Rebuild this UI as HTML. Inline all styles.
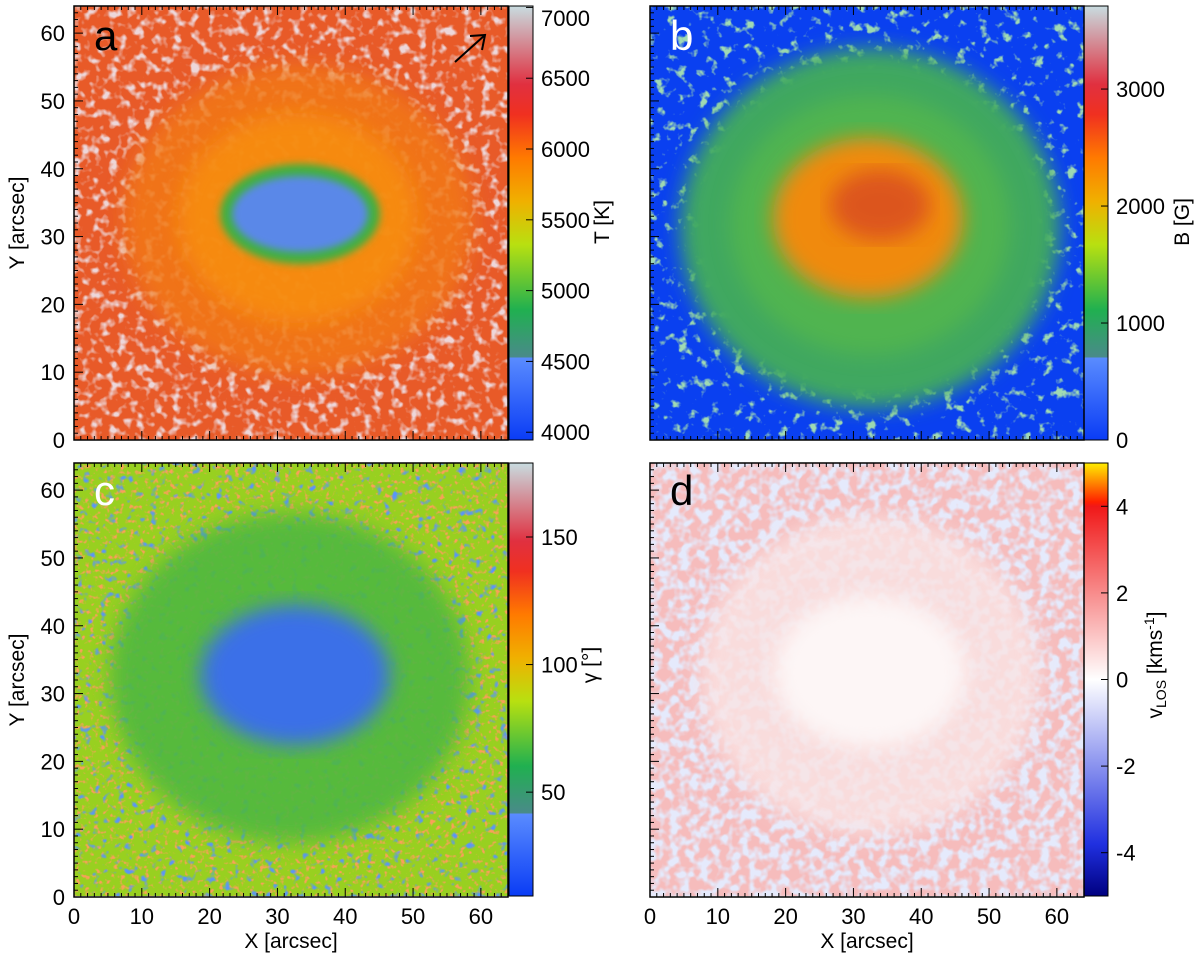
<!DOCTYPE html>
<html><head><meta charset="utf-8"><style>
body{margin:0;background:#fff;width:1200px;height:962px;overflow:hidden;font-family:"Liberation Sans",Arial,sans-serif}
</style></head><body>
<svg id="fig" width="1200" height="962" xmlns="http://www.w3.org/2000/svg" font-family="Liberation Sans, Arial, sans-serif">
<defs>
<linearGradient id="cbT" x1="0" y1="1" x2="0" y2="0">
<stop offset="0" stop-color="#0a3cf5"/><stop offset="0.19" stop-color="#5a8cff"/><stop offset="0.19" stop-color="#4a8a8a"/><stop offset="0.3" stop-color="#20b050"/><stop offset="0.45" stop-color="#b8e010"/><stop offset="0.55" stop-color="#f0b000"/><stop offset="0.65" stop-color="#ff7a00"/><stop offset="0.75" stop-color="#f03020"/><stop offset="0.82" stop-color="#e03040"/><stop offset="1" stop-color="#c8dce0"/>
</linearGradient>
<linearGradient id="cbV" x1="0" y1="1" x2="0" y2="0">
<stop offset="0" stop-color="#000080"/><stop offset="0.12" stop-color="#2030e0"/><stop offset="0.5" stop-color="#ffffff"/><stop offset="0.9" stop-color="#f01818"/><stop offset="0.91" stop-color="#ff2000"/><stop offset="1" stop-color="#ffee00"/>
</linearGradient>
<filter id="nA" x="0" y="0" width="1" height="1"><feTurbulence type="fractalNoise" baseFrequency="0.11" numOctaves="2" seed="3"/><feColorMatrix values="0 0 0 0 0.85  0 0 0 0 0.68  0 0 0 0 0.70  4 0 0 0 -2.0"/></filter>
<filter id="nB" x="0" y="0" width="1" height="1"><feTurbulence type="fractalNoise" baseFrequency="0.09" numOctaves="3" seed="7"/><feColorMatrix values="0 0 0 0 0.35  0 0 0 0 0.7  0 0 0 0 0.45  6 0 0 0 -3.5"/></filter>
<filter id="nC" x="0" y="0" width="1" height="1"><feTurbulence type="fractalNoise" baseFrequency="0.2" numOctaves="2" seed="5"/><feColorMatrix values="0 0 0 0 0.95  0 0 0 0 0.35  0 0 0 0 0.1  5 0 0 0 -2.8"/></filter>
<filter id="nC2" x="0" y="0" width="1" height="1"><feTurbulence type="fractalNoise" baseFrequency="0.12" numOctaves="2" seed="11"/><feColorMatrix values="0 0 0 0 0.1  0 0 0 0 0.3  0 0 0 0 0.95  5 0 0 0 -3.0"/></filter>
<filter id="nD" x="0" y="0" width="1" height="1"><feTurbulence type="fractalNoise" baseFrequency="0.1" numOctaves="2" seed="9"/><feColorMatrix values="0 0 0 0 0.78  0 0 0 0 0.82  0 0 0 0 0.97  4 0 0 0 -1.6"/></filter>
<filter id="blur6"><feGaussianBlur stdDeviation="10"/></filter>
<filter id="blur3"><feGaussianBlur stdDeviation="4"/></filter>
<clipPath id="clipA"><rect x="74" y="6" width="434" height="434"/></clipPath>
<clipPath id="clipB"><rect x="650" y="6" width="434" height="434"/></clipPath>
<clipPath id="clipC"><rect x="74" y="463" width="434" height="433"/></clipPath>
<clipPath id="clipD"><rect x="650" y="463" width="434" height="433"/></clipPath>
</defs>

<g clip-path="url(#clipA)">
<rect x="74" y="6" width="434" height="434" fill="#e85a28"/>
<rect x="74" y="6" width="434" height="434" filter="url(#nA)"/>
<ellipse cx="298" cy="220" rx="175" ry="155" fill="#f27818" opacity="0.85" filter="url(#blur6)"/>
<ellipse cx="298" cy="218" rx="120" ry="105" fill="#f89010" opacity="0.8" filter="url(#blur6)"/>
<ellipse cx="300" cy="214" rx="80" ry="50" fill="#40b040" filter="url(#blur3)"/>
<ellipse cx="300" cy="214" rx="68" ry="38" fill="#5a88e8" filter="url(#blur3)"/>
<line x1="455" y1="62" x2="485" y2="35" stroke="#000" stroke-width="2"/>
<polyline points="470,36 485,35 482,50" fill="none" stroke="#000" stroke-width="2"/>
</g>
<text x="94" y="50" font-size="42" fill="#000">a</text>

<g clip-path="url(#clipB)">
<rect x="650" y="6" width="434" height="434" fill="#0a40f0"/>
<rect x="650" y="6" width="434" height="434" filter="url(#nB)"/>
<ellipse cx="870" cy="228" rx="190" ry="180" fill="#3fa860" filter="url(#blur6)"/>
<ellipse cx="870" cy="225" rx="140" ry="130" fill="#60c040" opacity="0.5" filter="url(#blur6)"/>
<ellipse cx="868" cy="218" rx="95" ry="80" fill="#f08a10" filter="url(#blur6)"/>
<ellipse cx="880" cy="205" rx="50" ry="35" fill="#d84a20" opacity="0.8" filter="url(#blur6)"/>
</g>
<text x="670" y="50" font-size="42" fill="#fff">b</text>

<g clip-path="url(#clipC)">
<rect x="74" y="463" width="434" height="433" fill="#98d020"/>
<rect x="74" y="463" width="434" height="433" filter="url(#nC)"/>
<rect x="74" y="463" width="434" height="433" filter="url(#nC2)"/>
<ellipse cx="290" cy="678" rx="180" ry="165" fill="#50b840" opacity="0.9" filter="url(#blur6)"/>
<ellipse cx="295" cy="675" rx="95" ry="70" fill="#3a70e8" filter="url(#blur6)"/>
</g>
<text x="94" y="505" font-size="42" fill="#fff">c</text>

<g clip-path="url(#clipD)">
<rect x="650" y="463" width="434" height="433" fill="#f6bcbc"/>
<rect x="650" y="463" width="434" height="433" filter="url(#nD)"/>
<ellipse cx="870" cy="675" rx="170" ry="160" fill="#fae4e4" opacity="0.8" filter="url(#blur6)"/>
<ellipse cx="870" cy="672" rx="95" ry="75" fill="#fdf6f6" filter="url(#blur6)"/>
</g>
<text x="670" y="505" font-size="42" fill="#000">d</text>

<rect x="509" y="6" width="24" height="434" fill="url(#cbT)" stroke="#000"/>
<rect x="1084" y="6" width="24" height="434" fill="url(#cbT)" stroke="#000"/>
<rect x="509" y="463" width="24" height="433" fill="url(#cbT)" stroke="#000"/>
<rect x="1084" y="463" width="24" height="433" fill="url(#cbV)" stroke="#000"/>

<text transform="translate(609,222) rotate(-90)" text-anchor="middle" font-size="21">T [K]</text>
<text transform="translate(1189,222) rotate(-90)" text-anchor="middle" font-size="21">B [G]</text>
<text transform="translate(597,665) rotate(-90)" text-anchor="middle" font-size="21">γ [°]</text>
<text transform="translate(1162,665) rotate(-90)" text-anchor="middle" font-size="21">v<tspan font-size="14" dy="4">LOS</tspan><tspan dy="-4"> [kms</tspan><tspan font-size="14" dy="-8">-1</tspan><tspan dy="8">]</tspan></text>

<text transform="translate(24,223) rotate(-90)" text-anchor="middle" font-size="21">Y [arcsec]</text>
<text transform="translate(24,680) rotate(-90)" text-anchor="middle" font-size="21">Y [arcsec]</text>
<text x="291" y="948" text-anchor="middle" font-size="21">X [arcsec]</text>
<text x="867" y="948" text-anchor="middle" font-size="21">X [arcsec]</text>
<g id="axes"></g>
</svg>
<script>
const axisTicks=[0,10,20,30,40,50,60];
const tTicks=[4000,4500,5000,5500,6000,6500,7000];
const tRange=[3945,7010];
const bTicks=[0,1000,2000,3000];
const bRange=[0,3710];
const gTicks=[50,100,150];
const gRange=[9.3,179];
const vTicks=[-4,-2,0,2,4];
const vRange=[-5,5];
const NS='http://www.w3.org/2000/svg';
const G=document.getElementById('axes');
function mk(tag,at){const e=document.createElementNS(NS,tag);for(const k in at)e.setAttribute(k,at[k]);G.appendChild(e);return e;}
const panels=[{x:74,y:6,ly:true,xl:false},{x:650,y:6,ly:false,xl:false},{x:74,y:463,ly:true,xl:true},{x:650,y:463,ly:false,xl:true}];
const S=434/64;
panels.forEach((p,i)=>{
  const fr=mk('rect',{x:p.x,y:p.y,width:434,height:434,fill:'none',stroke:'#000','stroke-width':1.5});
  
  
  for(let v=0;v<=64;v++){
    const L=(v%10===0)?9:4;
    const px=p.x+v*S, py=p.y+434-v*S;
    mk('line',{x1:px,y1:p.y+434,x2:px,y2:p.y+434-L,stroke:'#000'});
    mk('line',{x1:px,y1:p.y,x2:px,y2:p.y+L,stroke:'#000'});
    mk('line',{x1:p.x,y1:py,x2:p.x+L,y2:py,stroke:'#000'});
  }
  axisTicks.forEach(v=>{
    if(p.xl){
      const t=mk('text',{x:p.x+v*S,y:924,'text-anchor':'middle','font-size':22});
      t.textContent=v;
      
      
    }
    if(p.ly){
      const t=mk('text',{x:p.x-9,y:p.y+434-v*S+8,'text-anchor':'end','font-size':22});
      t.textContent=v;
      
      
    }
  });
});
function cbar(x,y,h,ticks,range){
  ticks.forEach(v=>{
    const py=y+h-(v-range[0])/(range[1]-range[0])*h;
    mk('line',{x1:x+24-7,y1:py,x2:x+24,y2:py,stroke:'#000'});
    const t=mk('text',{x:x+32,y:Math.max(py+8,y+20),'font-size':22});
    t.textContent=v;
    
    
  });
}
cbar(509,6,434,tTicks,tRange);
cbar(1084,6,434,bTicks,bRange);
cbar(509,463,433,gTicks,gRange);
cbar(1084,463,433,vTicks,vRange);
</script>
</body></html>
